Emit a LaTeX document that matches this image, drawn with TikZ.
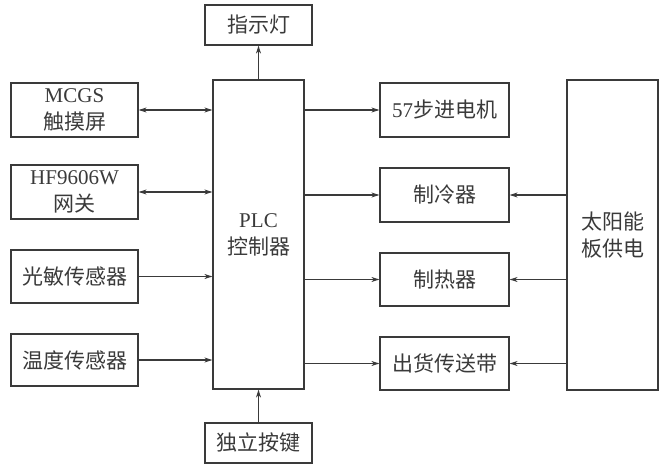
\documentclass[tikz,border=0pt]{standalone}
\usepackage{fontspec}
\setmainfont{Liberation Serif}
\newfontfamily\cjk{Noto Sans CJK SC}
\usetikzlibrary{arrows.meta}
\definecolor{ink}{HTML}{3A3A3A}
\begin{document}
\begin{tikzpicture}[x=1pt,y=-1pt,
  box/.style={draw=ink, line width=1.2pt, inner sep=0pt, align=center, text=ink,
    font=\fontsize{21}{27}\selectfont},
  arr/.style={draw=ink, line width=1.1pt, -{Stealth[length=8pt,width=5pt]}},
  darr/.style={draw=ink, line width=1.1pt, {Stealth[length=8pt,width=5pt]}-{Stealth[length=8pt,width=5pt]}}]
\useasboundingbox (0,0) rectangle (660,465);
\node[box, minimum width=107pt, minimum height=40pt] (lamp) at (258.5,25) {\cjk 指示灯};
\node[box, minimum width=91pt, minimum height=309pt] (plc) at (258.5,234.5) {PLC\\\cjk 控制器};
\node[box, minimum width=127pt, minimum height=54pt] (mcgs) at (74.5,110) {MCGS\\\cjk 触摸屏};
\node[box, minimum width=127pt, minimum height=54pt] (hf) at (74.5,192) {HF9606W\\\cjk 网关};
\node[box, minimum width=127pt, minimum height=53pt] (light) at (74.5,276.5) {\cjk 光敏传感器};
\node[box, minimum width=127pt, minimum height=52pt] (temp) at (74.5,360) {\cjk 温度传感器};
\node[box, minimum width=107pt, minimum height=40pt] (key) at (258.5,443) {\cjk 独立按键};
\node[box, minimum width=129pt, minimum height=54pt] (motor) at (444.5,110) {57{\cjk 步进电机}};
\node[box, minimum width=129pt, minimum height=54pt] (cool) at (444.5,195) {\cjk 制冷器};
\node[box, minimum width=129pt, minimum height=53pt] (heat) at (444.5,279.5) {\cjk 制热器};
\node[box, minimum width=129pt, minimum height=53pt] (belt) at (444.5,363.5) {\cjk 出货传送带};
\node[box, minimum width=91pt, minimum height=310pt] (solar) at (612.5,235) {\cjk 太阳能\\\cjk 板供电};
% connectors
\draw[darr] (mcgs.east) -- (plc.west |- mcgs.east);
\draw[darr] (hf.east) -- (plc.west |- hf.east);
\draw[arr] (light.east) -- (plc.west |- light.east);
\draw[arr] (temp.east) -- (plc.west |- temp.east);
\draw[arr] (plc.north) -- (lamp.south);
\draw[arr] (key.north) -- (plc.south);
\draw[arr] (plc.east |- motor.west) -- (motor.west);
\draw[arr] (plc.east |- cool.west) -- (cool.west);
\draw[arr] (plc.east |- heat.west) -- (heat.west);
\draw[arr] (plc.east |- belt.west) -- (belt.west);
\draw[arr] (solar.west |- cool.east) -- (cool.east);
\draw[arr] (solar.west |- heat.east) -- (heat.east);
\draw[arr] (solar.west |- belt.east) -- (belt.east);
\end{tikzpicture}
\end{document}
